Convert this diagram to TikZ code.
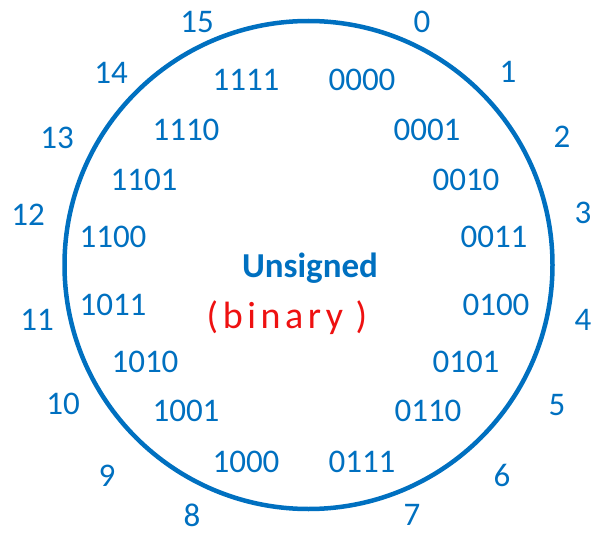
\documentclass[tikz,border=0pt]{standalone}
\usepackage{fontspec}
\setmainfont{Carlito}
\definecolor{ublue}{HTML}{0070C0}
\definecolor{ured}{HTML}{EE1111}
\tikzset{
  num/.style={text=ublue, inner sep=0pt, font=\fontsize{33}{36}\selectfont},
  ring/.style={draw=ublue, line width=4.5pt, circle, minimum size=488pt, inner sep=0pt},
}
\begin{document}
\begin{tikzpicture}[x=1pt,y=-1pt]
\useasboundingbox (0,0) rectangle (595,535);
\node[ring] (ring) at (308.5,265) {};
% outer decimal labels
\node[num] (d0) at (422,22) {0};
\node[num] (d1) at (508,72) {1};
\node[num] (d2) at (562,137) {2};
\node[num] (d3) at (583,213) {3};
\node[num] (d4) at (583,320) {4};
\node[num] (d5) at (557,405) {5};
\node[num] (d6) at (502,475) {6};
\node[num] (d7) at (412,515) {7};
\node[num] (d8) at (192,515) {8};
\node[num] (d9) at (107,476) {9};
\node[num] (d10) at (63,404) {10};
\node[num] (d11) at (37,320) {11};
\node[num] (d12) at (28,215) {12};
\node[num] (d13) at (57,138) {13};
\node[num] (d14) at (111,73) {14};
\node[num] (d15) at (197,22) {15};
% inner binary labels
\node[num] (b0) at (362,80) {0000};
\node[num] (b1) at (427,130) {0001};
\node[num] (b2) at (466,180) {0010};
\node[num] (b3) at (494,237) {0011};
\node[num] (b4) at (496,305) {0100};
\node[num] (b5) at (466,362) {0101};
\node[num] (b6) at (428,411) {0110};
\node[num] (b7) at (362,462) {0111};
\node[num] (b8) at (246,462) {1000};
\node[num] (b9) at (186,411) {1001};
\node[num] (b10) at (145,362) {1010};
\node[num] (b11) at (113,305) {1011};
\node[num] (b12) at (113,237) {1100};
\node[num] (b13) at (144,180) {1101};
\node[num] (b14) at (186,130) {1110};
\node[num] (b15) at (246,80) {1111};
% centre
\node[num, font=\fontsize{35}{38}\selectfont\bfseries] (title) at (310,268) {Unsigned};
\node[text=ured, inner sep=0pt, font=\fontsize{38}{40}\selectfont\addfontfeature{LetterSpace=12}] (sub) at (287,318) {(binary\,\,)};
\end{tikzpicture}
\end{document}
